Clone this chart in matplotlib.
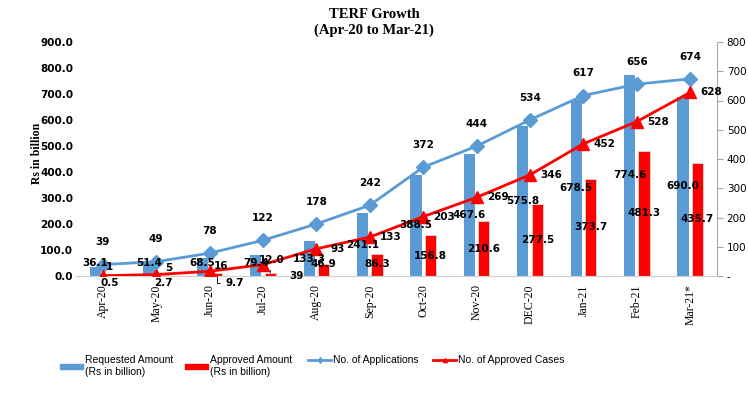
import numpy as np
import matplotlib.pyplot as plt
from matplotlib.patches import Patch
from matplotlib.lines import Line2D

months = ['Apr-20', 'May-20', 'Jun-20', 'Jul-20', 'Aug-20', 'Sep-20', 'Oct-20',
          'Nov-20', 'DEC-20', 'Jan-21', 'Feb-21', 'Mar-21*']
requested = [36.1, 51.4, 68.5, 79.4, 133.3, 241.1, 388.5, 467.6, 575.8, 678.5, 774.6, 690.0]
approved = [0.5, 2.7, 9.7, 12.0, 46.9, 86.3, 156.8, 210.6, 277.5, 373.7, 481.3, 435.7]
applications = [39, 49, 78, 122, 178, 242, 372, 444, 534, 617, 656, 674]
approved_cases = [1, 5, 16, 39, 93, 133, 203, 269, 346, 452, 528, 628]

BLUE = '#5B9BD5'
RED = '#FF0000'
serif = ['Liberation Serif', 'DejaVu Serif']
narrow = ['Liberation Sans Narrow', 'Liberation Sans', 'DejaVu Sans']

fig = plt.figure(figsize=(7.48, 3.99), dpi=100)
ax = fig.add_axes([76 / 748, 1 - 276 / 399, 641 / 748, 234 / 399])
ax2 = ax.twinx()

x = np.arange(len(months))
w = 0.21
off = 0.135

ax.bar(x - off, requested, w, color=BLUE, zorder=2)
ax.bar(x + off, approved, w, color=RED, edgecolor='#d9d9d9', linewidth=0.6, zorder=2)

ax2.plot(x, applications, color=BLUE, lw=2, marker='D', ms=7, zorder=3)
ax2.plot(x, approved_cases, color=RED, lw=2, marker='^', ms=9, zorder=3)

ax.set_xlim(-0.5, len(months) - 0.5)
ax.set_ylim(0, 900)
ax2.set_ylim(0, 800)
ax.set_yticks(np.arange(0, 901, 100))
ax.set_yticklabels([f'{v:.1f}' for v in range(0, 901, 100)])
ax2.set_yticks(np.arange(0, 801, 100))
ax2.set_yticklabels(['-'] + [str(v) for v in range(100, 801, 100)])

ax.set_xticks(x)
ax.set_xticklabels(months, rotation=90, fontfamily=serif, fontsize=8.5)
ax.tick_params(axis='x', length=0, pad=6)
ax.tick_params(axis='y', length=0, pad=2)
for lab in ax.get_yticklabels():
    lab.set_fontweight('bold')
    lab.set_fontsize(7.5)
ax2.tick_params(axis='y', length=4, color='#a6a6a6', labelsize=7.5, pad=3)

for a in (ax, ax2):
    a.spines['top'].set_visible(False)
    a.spines['left'].set_visible(False)
    a.spines['bottom'].set_color('#d0d0d0')
ax.spines['right'].set_visible(False)
ax2.spines['right'].set_color('#a6a6a6')

lab_kw = dict(fontsize=7.5, fontweight='bold', ha='center', va='center', zorder=5)
bar_tr = ax.transData  # bar labels live on ax2 so they sit above the lines

# requested amount labels
for i, v in enumerate(requested):
    ax2.text(i - off, max(v / 2, 50), f'{v:.1f}', transform=bar_tr, **lab_kw)

# approved amount labels
for i, v in enumerate(approved):
    if i < 2:
        ax2.text(i + off, -27, f'{v:.1f}', transform=bar_tr, **lab_kw)
    elif i == 2:
        ax2.annotate(f'{v:.1f}', (i + off, v), xytext=(i + 0.47, -27),
                     xycoords=bar_tr, textcoords=bar_tr,
                     arrowprops=dict(arrowstyle='-', color='black', lw=0.6,
                                     connectionstyle='angle,angleA=0,angleB=90'), **lab_kw)
    elif i == 3:
        ax2.annotate(f'{v:.1f}', (i + off, v), xytext=(i + 0.17, 62),
                     xycoords=bar_tr, textcoords=bar_tr,
                     arrowprops=dict(arrowstyle='-', color='black', lw=0.6), **lab_kw)
    else:
        ax2.text(i + off, max(v / 2, 45), f'{v:.1f}', transform=bar_tr, **lab_kw)

# number of applications labels
for i, v in enumerate(applications):
    ax2.annotate(str(v), (i, v), xytext=(0, 16), textcoords='offset points', **lab_kw)

# approved cases labels
case_off = [(5, 6), (9, 5), (8, 4), (24, -8)]
for i, v in enumerate(approved_cases):
    dx, dy = case_off[i] if i < len(case_off) else (15, 0)
    ax2.annotate(str(v), (i, v), xytext=(dx, dy), textcoords='offset points', **lab_kw)

fig.text(0.5, 1 - 14 / 399, 'TERF Growth', ha='center', va='center',
         fontfamily=serif, fontweight='bold', fontsize=10.5)
fig.text(0.5, 1 - 30 / 399, '(Apr-20 to Mar-21)', ha='center', va='center',
         fontfamily=serif, fontweight='bold', fontsize=10.5)
fig.text(37 / 748, 1 - 153 / 399, 'Rs in billion', rotation=90, ha='center', va='center',
         fontfamily=serif, fontweight='bold', fontsize=8.5)

handles = [
    (Patch(color=BLUE), 'Requested Amount\n(Rs in billion)', 60),
    (Patch(color=RED), 'Approved Amount\n(Rs in billion)', 185),
    (Line2D([], [], color=BLUE, lw=2, marker='d', ms=3), 'No. of Applications', 308),
    (Line2D([], [], color=RED, lw=2, marker='^', ms=3), 'No. of Approved Cases', 433),
]
for h, txt, xp in handles:
    fig.legend(handles=[h], labels=[txt], loc='upper left',
               bbox_to_anchor=(xp / 748 - 0.012, 1 - 346 / 399), frameon=False,
               handlelength=2.2, handleheight=0.5, handletextpad=0.2,
               prop={'family': narrow, 'size': 7.5}, labelspacing=0)

fig.savefig('out.png', dpi=100)
